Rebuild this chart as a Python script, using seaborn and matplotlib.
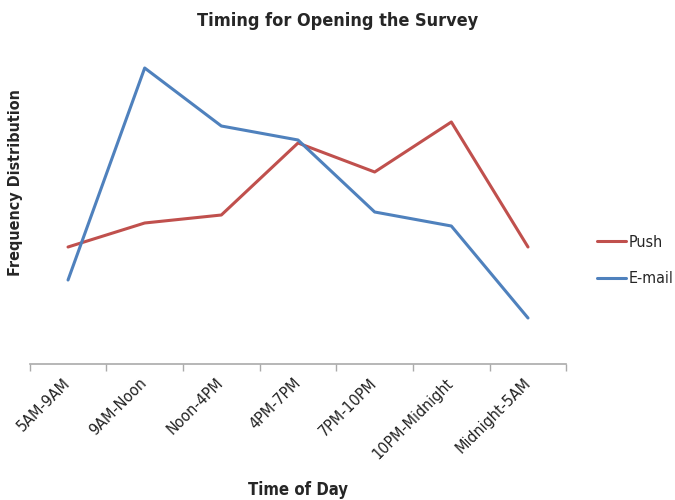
import numpy as np
import pandas as pd
import matplotlib.pyplot as plt
import seaborn as sns

time_slots = ["5AM-9AM", "9AM-Noon", "Noon-4PM", "4PM-7PM",
              "7PM-10PM", "10PM-Midnight", "Midnight-5AM"]
push = [117, 141, 149, 221, 192, 242, 117]
email = [84, 296, 238, 224, 152, 138, 46]

df = pd.DataFrame({
    "slot": list(range(len(time_slots))) * 2,
    "freq": push + email,
    "channel": ["Push"] * len(push) + ["E-mail"] * len(email),
})

sns.set_style("white")
plt.rcParams["font.family"] = ["DejaVu Sans"]
plt.rcParams["font.stretch"] = "condensed"

fig = plt.figure(figsize=(6.75, 5), dpi=100)
ax = fig.add_axes([0.044, 0.272, 0.795, 0.648])
sns.lineplot(data=df, x="slot", y="freq", hue="channel",
             palette={"Push": "#c0504d", "E-mail": "#4f81bd"},
             linewidth=2.2, ax=ax)

ax.set_xlim(-0.5, len(time_slots) - 0.5)
ax.set_ylim(0, 324)
ax.set_yticks([])
ax.set_xticks(range(len(time_slots)))
ax.set_xticklabels(time_slots, rotation=45, ha="right", va="center",
                   rotation_mode="anchor", fontsize=11.5, color="#222222")
ax.set_xticks(np.arange(-0.5, len(time_slots)), minor=True)
ax.tick_params(axis="x", which="major", length=0, pad=12)
ax.tick_params(axis="x", which="minor", length=5, color="#aaaaaa", width=1,
               bottom=True)
for s in ["top", "right", "left"]:
    ax.spines[s].set_visible(False)
ax.spines["bottom"].set_color("#aaaaaa")
ax.spines["bottom"].set_linewidth(1.2)

ax.set_xlabel("Time of Day", fontsize=12, fontweight="bold", va="center")
ax.xaxis.set_label_coords(0.5, -0.39)
ax.set_ylabel("Frequency Distribution", fontsize=11.5, fontweight="bold",
              va="center")
ax.yaxis.set_label_coords(-0.026, 0.56)
fig.suptitle("Timing for Opening the Survey", fontsize=13, fontweight="bold",
             x=0.5, y=0.975)

ax.legend(loc="center left", bbox_to_anchor=(1.03, 0.32), frameon=False,
          fontsize=11.5, handlelength=1.8, handletextpad=0.2, labelspacing=1.35)

fig.savefig("out.png", dpi=100)
